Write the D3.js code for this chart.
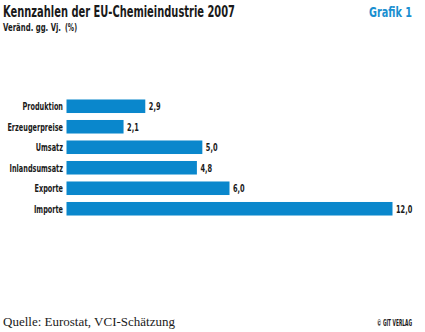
<!DOCTYPE html>
<html>
<head>
<meta charset="utf-8">
<script src="https://cdn.jsdelivr.net/npm/d3@7"></script>
<style>
  body { margin: 0; background: #fff; }
  svg { display: block; }
  .cond { font-family: "DejaVu Sans", sans-serif; font-weight: bold; }
</style>
</head>
<body>
<div id="chart"></div>
<script>
// data
const categories = ['Produktion', 'Erzeugerpreise', 'Umsatz', 'Inlandsumsatz', 'Exporte', 'Importe'];
const values = [2.9, 2.1, 5.0, 4.8, 6.0, 12.0];

const W = 425, H = 332;
const margin = { left: 66.5, top: 96 };

const svg = d3.select('#chart').append('svg')
  .attr('width', W)
  .attr('height', H);

// squeeze text horizontally to fake a condensed face
// (anchor is handled by hand, text-anchor end misbehaves with textLength)
const condense = (sel, f, right) => sel.each(function () {
  const len = this.getComputedTextLength() * f;
  const t = d3.select(this).attr('textLength', len).attr('lengthAdjust', 'spacingAndGlyphs');
  if (right !== undefined) t.attr('x', right - len);
});

// scales
const x = d3.scaleLinear().domain([0, 12]).range([0, 326]);
const y = d3.scaleBand().domain(categories).range([0, 123]).paddingInner(0.34).paddingOuter(0.17);

const g = svg.append('g')
  .attr('transform', `translate(${margin.left}, ${margin.top})`);

// bars
g.selectAll('rect')
  .data(values)
  .enter().append('rect')
  .attr('x', 0)
  .attr('y', (d, i) => y(categories[i]))
  .attr('width', d => x(d))
  .attr('height', y.bandwidth())
  .attr('fill', '#0a87cc');

// value labels
g.selectAll('.val')
  .data(values)
  .enter().append('text')
  .attr('class', 'val cond')
  .attr('x', d => x(d) + 3.5)
  .attr('y', (d, i) => y(categories[i]) + y.bandwidth() / 2)
  .attr('dy', '0.36em')
  .attr('font-size', 10.5)
  .attr('fill', '#1a1a1a')
  .text(d => d3.format('.1f')(d).replace('.', ','))
  .call(condense, 0.63);

// category axis labels
g.selectAll('.cat')
  .data(categories)
  .enter().append('text')
  .attr('class', 'cat cond')
  .attr('x', 0)
  .attr('y', d => y(d) + y.bandwidth() / 2)
  .attr('dy', '0.36em')
  .attr('font-size', 10.5)
  .attr('fill', '#1a1a1a')
  .text(d => d)
  .call(condense, 0.62, -3.5);

// titles
svg.append('text')
  .attr('class', 'cond')
  .attr('x', 3).attr('y', 17)
  .attr('font-size', 16.5)
  .attr('fill', '#1a1a1a')
  .attr('textLength', 232)
  .attr('lengthAdjust', 'spacingAndGlyphs')
  .text('Kennzahlen der EU-Chemieindustrie 2007');

svg.append('text')
  .attr('class', 'cond')
  .attr('x', 3).attr('y', 30.5)
  .attr('font-size', 11)
  .attr('fill', '#1a1a1a')
  .attr('textLength', 58)
  .attr('lengthAdjust', 'spacingAndGlyphs')
  .text('Veränd. gg. Vj.');

svg.append('text')
  .attr('class', 'cond')
  .attr('x', 65).attr('y', 30.5)
  .attr('font-size', 10)
  .attr('font-weight', 'normal')
  .attr('fill', '#1a1a1a')
  .attr('textLength', 12)
  .attr('lengthAdjust', 'spacingAndGlyphs')
  .text('(%)');

svg.append('text')
  .attr('class', 'cond')
  .attr('x', 369).attr('y', 17)
  .attr('font-size', 14.5)
  .attr('fill', '#1a8fd0')
  .attr('textLength', 43)
  .attr('lengthAdjust', 'spacingAndGlyphs')
  .text('Grafik 1');

// footer
svg.append('text')
  .attr('x', 3).attr('y', 326)
  .attr('font-family', '"Liberation Serif", serif')
  .attr('font-size', 13)
  .attr('fill', '#1a1a1a')
  .text('Quelle: Eurostat, VCI-Schätzung');

svg.append('text')
  .attr('class', 'cond')
  .attr('x', 377).attr('y', 326)
  .attr('font-size', 8)
  .attr('fill', '#1a1a1a')
  .attr('textLength', 35)
  .attr('lengthAdjust', 'spacingAndGlyphs')
  .text('© GIT VERLAG');
</script>
</body>
</html>
